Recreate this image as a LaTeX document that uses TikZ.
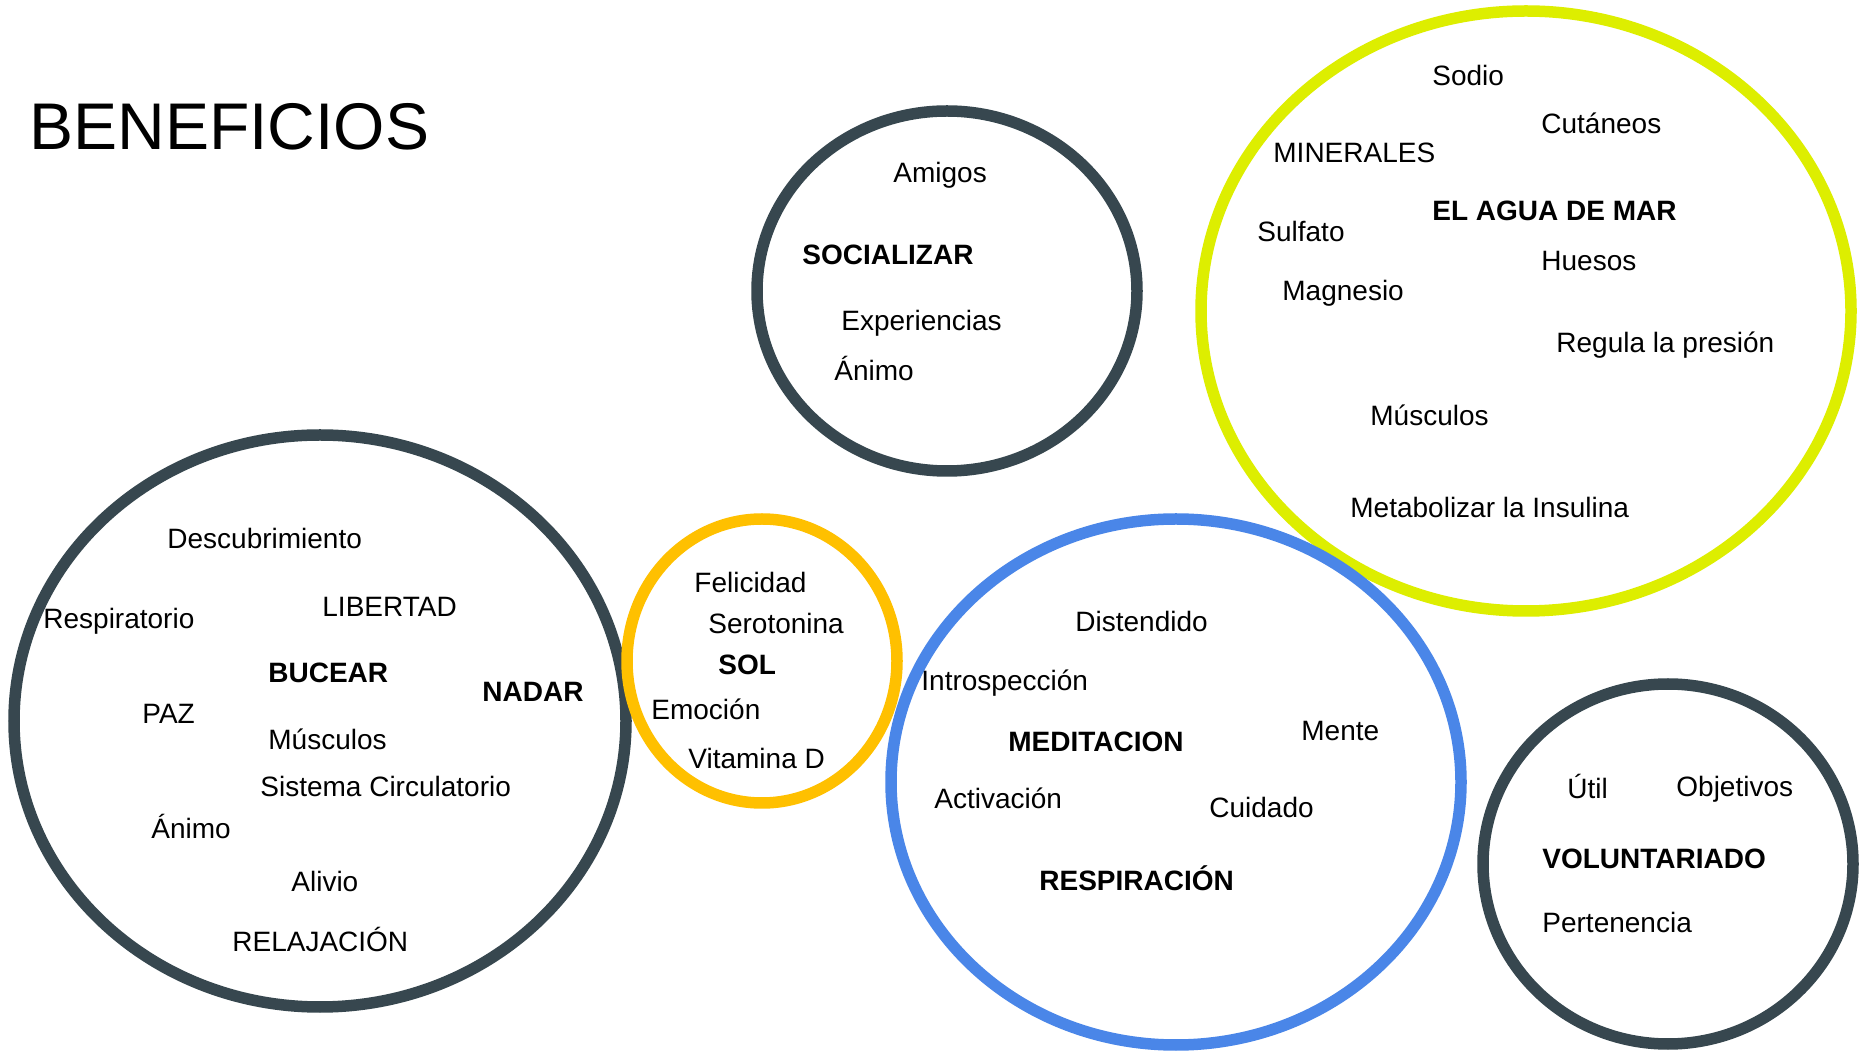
\documentclass[tikz,border=0pt]{standalone}
\usepackage{fontspec}
\setmainfont{Liberation Sans}
\usetikzlibrary{positioning}

\definecolor{ringslate}{HTML}{37474F}
\definecolor{ringlime}{HTML}{DDEE00}
\definecolor{ringsun}{HTML}{FFC000}
\definecolor{ringblue}{HTML}{4A86E8}

\begin{document}
\begin{tikzpicture}[x=0.5pt, y=-0.5pt,
    ring/.style={line width=5.75pt},
    word/.style={inner sep=0pt, anchor=west, text height=10pt, text depth=0pt,
                 font=\fontsize{14}{17}\selectfont},
    keyword/.style={word, font=\fontsize{14}{17}\selectfont\bfseries},
    headline/.style={inner sep=0pt, anchor=west, text height=23.6pt, text depth=0pt,
                 font=\fontsize{33}{40}\selectfont}]
    \useasboundingbox (0,0) rectangle (1859,1052);
    \fill[white] (0,0) rectangle (1859,1052);

    %% rings
    \foreach \cx/\cy/\rx/\ry/\col in {947/291/190/180/ringslate,
                                       1526/311/325/300/ringlime,
                                       320/721/306/286/ringslate,
                                       762/661/135/142/ringsun,
                                       1176/782/285/263/ringblue,
                                       1668/864/185/180/ringslate}
        \draw[ring,\col] (\cx,\cy) ellipse [x radius=\rx, y radius=\ry];

    %% title
    \node[headline] (title) at (29,126) {BENEFICIOS};

    % socializar
    \node[word] (soc-amigos) at (893,173) {Amigos};
    \node[keyword] (soc) at (802,255) {SOCIALIZAR};
    \node[word] (soc-exp) at (841,321) {Experiencias};
    \node[word] (soc-animo) at (834,371) {Ánimo};

    % el agua de mar
    \node[word] (mar-sodio) at (1432,76) {Sodio};
    \node[word] (mar-cutaneos) at (1541,124) {Cutáneos};
    \node[word] (mar-minerales) at (1273,153) {MINERALES};
    \node[keyword] (mar) at (1432,211) {EL AGUA DE MAR};
    \node[word] (mar-sulfato) at (1257,232) {Sulfato};
    \node[word] (mar-huesos) at (1541,261) {Huesos};
    \node[word] (mar-magnesio) at (1282,291) {Magnesio};
    \node[word] (mar-presion) at (1556,343) {Regula la presión};
    \node[word] (mar-musculos) at (1370,416) {Músculos};
    \node[word] (mar-insulina) at (1350,508) {Metabolizar la Insulina};

    % bucear / nadar
    \node[word] (buc-desc) at (167,539) {Descubrimiento};
    \node[word] (buc-resp) at (43,619) {Respiratorio};
    \node[word] (buc-libertad) at (322,607) {LIBERTAD};
    \node[keyword] (buc) at (268,673) {BUCEAR};
    \node[keyword] (nadar) at (482,692) {NADAR};
    \node[word] (buc-paz) at (142,714) {PAZ};
    \node[word] (buc-musculos) at (268,740) {Músculos};
    \node[word] (buc-circ) at (260,787) {Sistema Circulatorio};
    \node[word] (buc-animo) at (151,829) {Ánimo};
    \node[word] (buc-alivio) at (291,882) {Alivio};
    \node[word] (buc-relax) at (232,941) {RELAJACIÓN};

    % sol
    \node[word] (sol-felicidad) at (694,583) {Felicidad};
    \node[word] (sol-sero) at (708,624) {Serotonina};
    \node[keyword] (sol) at (718,665) {SOL};
    \node[word] (sol-emocion) at (651,710) {Emoción};
    \node[word] (sol-vitd) at (688,759) {Vitamina D};

    % meditacion
    \node[word] (med-dist) at (1075,622) {Distendido};
    \node[word] (med-intro) at (921,681) {Introspección};
    \node[keyword] (med) at (1008,742) {MEDITACION};
    \node[word] (med-mente) at (1301,731) {Mente};
    \node[word] (med-activ) at (934,799) {Activación};
    \node[word] (med-cuidado) at (1209,808) {Cuidado};
    \node[keyword] (med-resp) at (1039,881) {RESPIRACIÓN};

    % voluntariado
    \node[word] (vol-util) at (1567,789) {Útil};
    \node[word] (vol-obj) at (1676,787) {Objetivos};
    \node[keyword] (vol) at (1542,859) {VOLUNTARIADO};
    \node[word] (vol-pert) at (1542,923) {Pertenencia};
\end{tikzpicture}
\end{document}
